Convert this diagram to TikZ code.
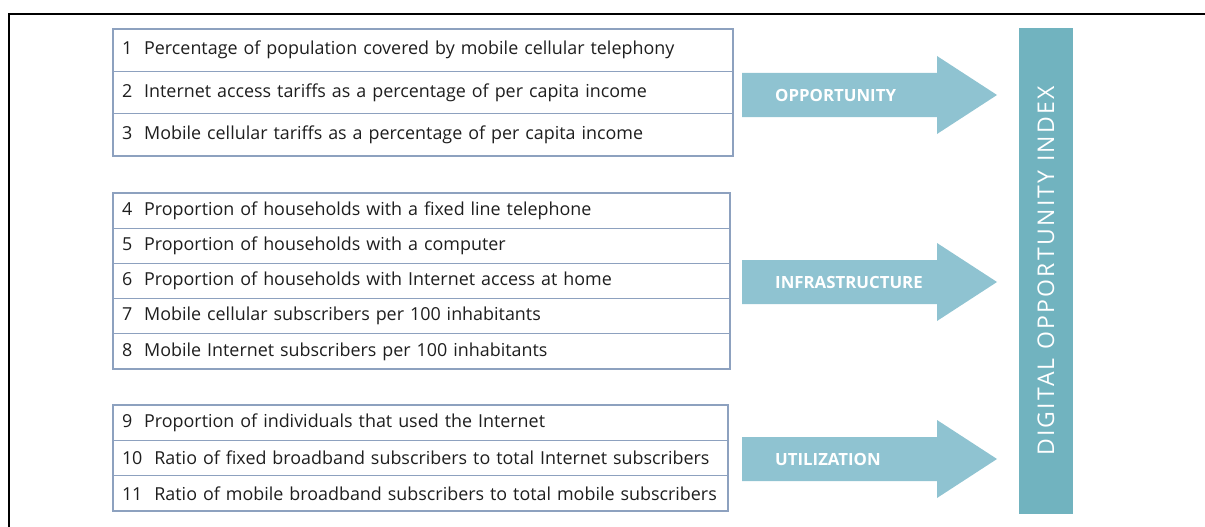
\documentclass[tikz,border=0pt]{standalone}
\usepackage{fontspec}
\setmainfont{Open Sans}
\usetikzlibrary{positioning}
\definecolor{rowline}{HTML}{8DA1BF}
\definecolor{rowtext}{HTML}{1E1E1E}
\definecolor{arrowfill}{HTML}{8FC3D1}
\definecolor{barfill}{HTML}{71B3BF}
\tikzstyle{rowbox} = [draw=rowline, line width=1.3pt, rectangle, inner xsep=9pt,
    inner ysep=0pt, outer sep=0pt, align=left, text=rowtext,
    font=\fontsize{17.9}{20}\selectfont]
\tikzstyle{oppbox} = [rowbox, text width=602pt, minimum height=42.3pt]
\tikzstyle{infbox} = [rowbox, text width=599pt, minimum height=35.2pt]
\tikzstyle{usebox} = [rowbox, text width=597pt, minimum height=35.3pt]
\tikzstyle{arrowtext} = [text=white, font=\fontsize{16.8}{18}\selectfont\bfseries, inner sep=0pt]
\tikzstyle{barbox} = [fill=barfill, text=white, rotate=90, minimum width=486pt,
    minimum height=54pt, inner sep=0pt,
    font=\fontsize{23}{26}\selectfont\addfontfeatures{LetterSpace=10}]

\begin{document}
\begin{tikzpicture}[x=1pt, y=-1pt]
    \useasboundingbox (0,0) rectangle (1205,527);
    % frame
    \draw[line width=1.4pt] (1205,14) -- (9,14) -- (9,527);

    % opportunity indicators
    \node [oppbox, anchor=north west] (r1) at (113,29) {1\ \ Percentage of population covered by mobile cellular telephony};
    \node [oppbox, below=0pt of r1] (r2) {2\ \ Internet access tariffs as a percentage of per capita income};
    \node [oppbox, below=0pt of r2] (r3) {3\ \ Mobile cellular tariffs as a percentage of per capita income};

    % infrastructure indicators
    \node [infbox, anchor=north west] (r4) at (113,193) {4\ \ Proportion of households with a fixed line telephone};
    \node [infbox, below=0pt of r4] (r5) {5\ \ Proportion of households with a computer};
    \node [infbox, below=0pt of r5] (r6) {6\ \ Proportion of households with Internet access at home};
    \node [infbox, below=0pt of r6] (r7) {7\ \ Mobile cellular subscribers per 100 inhabitants};
    \node [infbox, below=0pt of r7] (r8) {8\ \ Mobile Internet subscribers per 100 inhabitants};

    % utilization indicators
    \node [usebox, anchor=north west] (r9) at (113,405) {9\ \ Proportion of individuals that used the Internet};
    \node [usebox, below=0pt of r9] (r10) {10\ \ Ratio of fixed broadband subscribers to total Internet subscribers};
    \node [usebox, below=0pt of r10] (r11) {11\ \ Ratio of mobile broadband subscribers to total mobile subscribers};

    % block arrows
    \foreach \y/\lbl/\nm in {95/OPPORTUNITY/opp, 282/INFRASTRUCTURE/inf, 459/UTILIZATION/use}{
        \fill[arrowfill] (742,\y-22) -- (937,\y-22) -- (937,\y-39) -- (997,\y)
            -- (937,\y+39) -- (937,\y+22) -- (742,\y+22) -- cycle;
        \node [arrowtext, anchor=west] (\nm) at (775,\y) {\lbl};
    }

    % index bar
    \node [barbox] (doi) at (1046,271) {DIGITAL OPPORTUNITY INDEX};
\end{tikzpicture}
\end{document}
